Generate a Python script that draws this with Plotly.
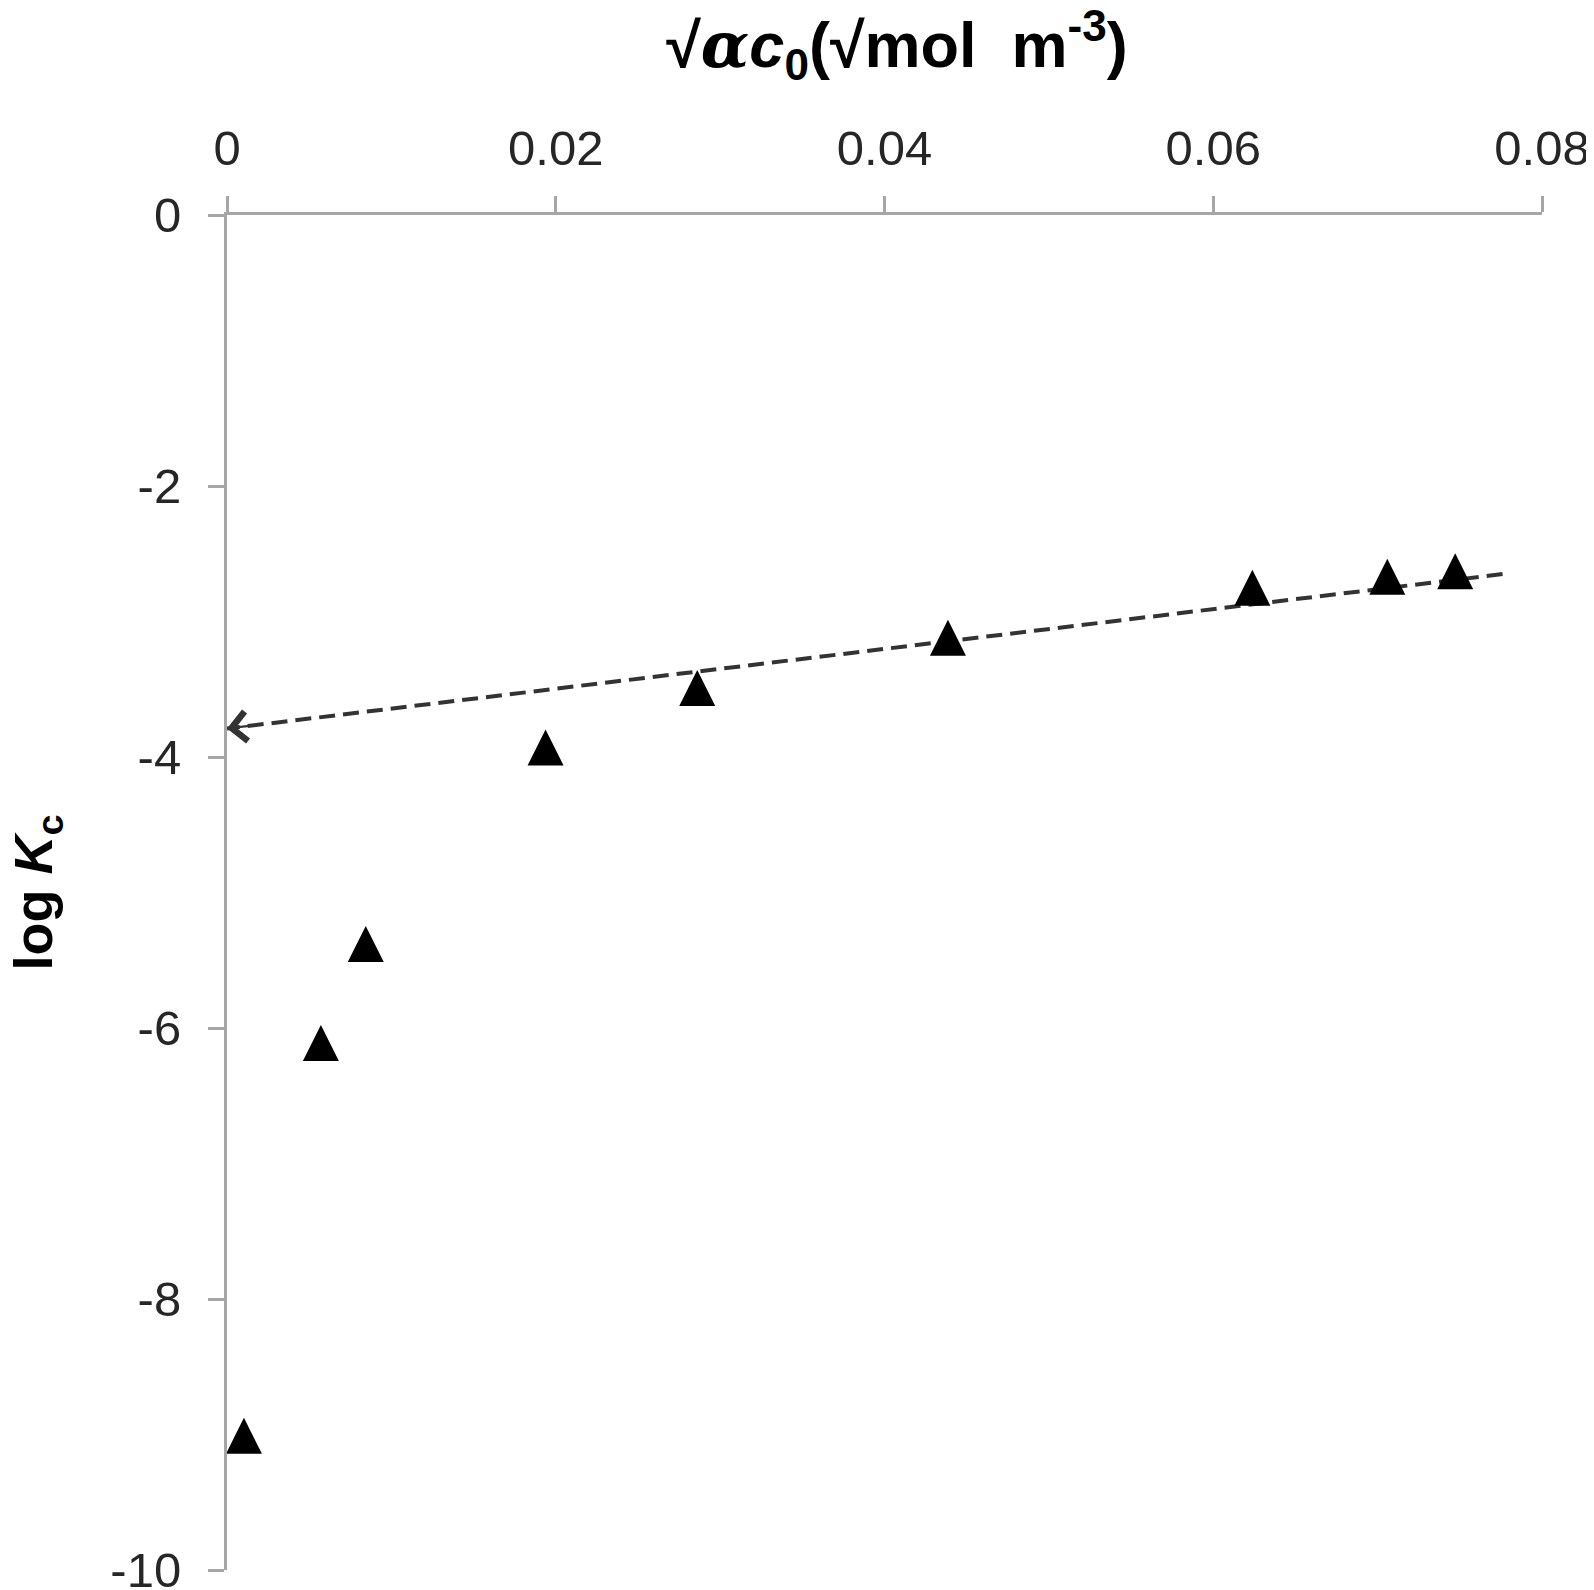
import plotly.graph_objects as go

# Data
sqrt_alpha_c0 = [0.00103, 0.00571, 0.00844, 0.01938, 0.02861, 0.04386, 0.06238, 0.07059, 0.07472]
log_kc = [-9.01, -6.11, -5.38, -3.93, -3.49, -3.12, -2.75, -2.67, -2.63]

# Extrapolated trend line (right end -> intercept at the y axis)
trend_x = [0.0776, 0.0]
trend_y = [-2.65, -3.79]

x_tickvals = [0, 0.02, 0.04, 0.06, 0.08]
x_ticktext = ["0", "0.02", "0.04", "0.06", "0.08"]
y_tickvals = [0, -2, -4, -6, -8, -10]
y_ticktext = ["0", "-2", "-4", "-6", "-8", "-10"]

AXIS_GRAY = "#a6a6a6"
TEXT = "#262626"

fig = go.Figure()

fig.add_trace(go.Scatter(
    x=trend_x, y=trend_y, mode="lines",
    line=dict(color="#333333", width=4, dash="16px,8px"),
    hoverinfo="skip", showlegend=False,
))

fig.add_trace(go.Scatter(
    x=sqrt_alpha_c0, y=log_kc, mode="markers",
    marker=dict(symbol="arrow-down", angle=180, standoff=18, size=36,
                color="black", line=dict(width=0)),
    showlegend=False,
))

# open arrow head at the intercept
fig.add_annotation(
    x=trend_x[1], y=trend_y[1], xref="x", yref="y",
    ax=26, ay=-3.1, axref="pixel", ayref="pixel",
    showarrow=True, arrowhead=4, arrowsize=2.6, arrowwidth=2.2,
    arrowcolor="#333333", text="",
)

# y axis title
fig.add_annotation(
    text="<b>log <i>K</i><sub>c</sub></b>", textangle=-90,
    xref="paper", yref="paper", x=-0.1452, y=0.5,
    xanchor="center", yanchor="middle", showarrow=False,
    font=dict(size=54, color="black"),
)

fig.update_layout(
    width=1586, height=1582,
    margin=dict(l=219, r=52, t=207, b=20, autoexpand=False),
    paper_bgcolor="white", plot_bgcolor="white",
    font=dict(family="Arial, Liberation Sans, sans-serif", color=TEXT),
    title=dict(
        text="<b>√<span style='font-family:DejaVu Serif'><i>α</i></span><i>c</i><sub>0</sub>"
             "(√mol  m<sup>-3</sup>)</b>",
        font=dict(size=63, color="black"),
        xref="paper", x=0.5095, xanchor="center",
        yref="container", y=0.9765, yanchor="middle",
    ),
    xaxis=dict(
        side="top", range=[0, 0.08], automargin=False,
        tickvals=x_tickvals, ticktext=x_ticktext,
        showline=True, linecolor=AXIS_GRAY, linewidth=3,
        ticks="outside", ticklen=16, tickwidth=3, tickcolor=AXIS_GRAY,
        showgrid=False, zeroline=False,
        tickfont=dict(size=49, color=TEXT),
        ticklabelstandoff=11, ticklabeloverflow="allow",
    ),
    yaxis=dict(
        range=[-10, 0], automargin=False,
        tickvals=y_tickvals, ticktext=y_ticktext,
        showline=True, linecolor=AXIS_GRAY, linewidth=3,
        ticks="outside", ticklen=16, tickwidth=3, tickcolor=AXIS_GRAY,
        showgrid=False, zeroline=False,
        tickfont=dict(size=49, color=TEXT),
        ticklabelstandoff=17, ticklabeloverflow="allow",
    ),
)

fig.write_html("out.html")
